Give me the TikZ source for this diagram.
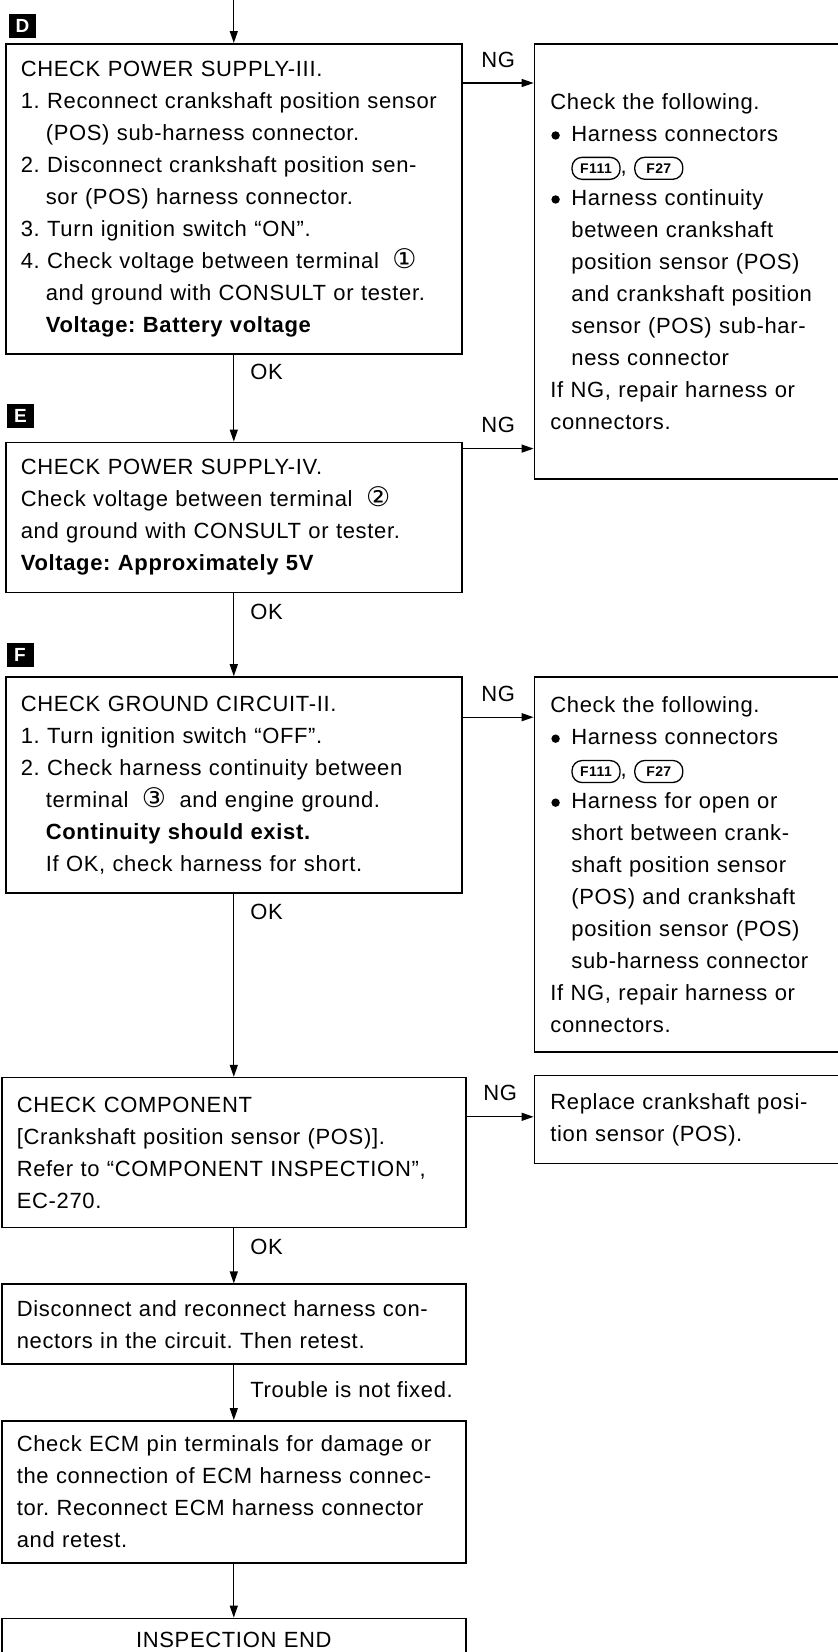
\documentclass[tikz,border=0pt]{standalone}
\usepackage{fontspec}
\setmainfont{Liberation Sans}[LetterSpace=3]
\newfontfamily\circfont{DejaVu Sans}
\usetikzlibrary{positioning, arrows.meta, calc}

\newcommand{\boxfont}{\frenchspacing\fontsize{22}{32}\selectfont}
\newcommand{\stepind}{\hspace*{25pt}}
\newcommand{\bulind}{\hspace*{21pt}}
\newcommand{\bul}{\makebox[21pt][l]{\hspace{1pt}\raisebox{1.5pt}{\tikz\fill (0,0) circle (4.2pt);}}}
\newcommand{\harn}[1]{\tikz[baseline=(p.base)]\node[pill] (p) {#1};}
\newcommand{\pinno}[1]{\hspace{6pt}{\circfont\fontsize{27}{27}\selectfont #1}}

\begin{document}
\begin{tikzpicture}[
  x=1pt, y=-1pt,
  stepbox/.style={
    rectangle,
    draw,
    line width=1.6pt,
    text width=426pt,
    inner xsep=15pt,
    inner ysep=0pt,
    align=left,
    font=\boxfont
  },
  notebox/.style={
    rectangle,
    draw,
    line width=1.6pt,
    text width=330pt,
    inner xsep=16pt,
    inner ysep=0pt,
    align=left,
    font=\boxfont
  },
  marker/.style={fill=black, text=white, minimum width=27pt, minimum height=24pt,
    inner sep=0pt, font=\bfseries\fontsize{19}{19}\selectfont},
  lbl/.style={inner sep=2pt, font=\boxfont},
  pill/.style={draw, line width=1.3pt, rounded corners=10pt, text width=40pt,
    align=center, inner xsep=4pt, inner ysep=3pt, minimum height=22pt,
    font=\bfseries\fontsize{14}{14}\selectfont},
  arrow/.style={-{Triangle[length=12pt, width=8pt]}, line width=1.3pt}
]
  \useasboundingbox (0,0) rectangle (838,1652);

  % Step markers
  \node (mD) [marker] at (22.5,26) {D};
  \node (mE) [marker] at (20.5,416) {E};
  \node (mF) [marker] at (20,655) {F};

  % Main column
  \node (D) [stepbox, minimum height=310pt, anchor=north west] at (5,43) {
    CHECK POWER SUPPLY-III.\\
    1. Reconnect crankshaft position sensor\\
    \stepind (POS) sub-harness connector.\\
    2. Disconnect crankshaft position sen-\\
    \stepind sor (POS) harness connector.\\
    3. Turn ignition switch ``ON''.\\
    4. Check voltage between terminal \pinno{①}\\
    \stepind and ground with CONSULT or tester.\\
    \stepind\textbf{Voltage: Battery voltage}};
  \node (E) [stepbox, minimum height=150pt, below=87pt of D] {
    CHECK POWER SUPPLY-IV.\\
    Check voltage between terminal \pinno{②}\\
    and ground with CONSULT or tester.\\
    \textbf{Voltage: Approximately 5V}};
  \node (F) [stepbox, minimum height=216pt, below=83pt of E] {
    CHECK GROUND CIRCUIT-II.\\
    1. Turn ignition switch ``OFF''.\\
    2. Check harness continuity between\\
    \stepind terminal \pinno{③}\hspace{6pt} and engine ground.\\
    \stepind\textbf{Continuity should exist.}\\
    \stepind If OK, check harness for short.};
  \node (comp) [stepbox, text width=434pt, minimum height=150pt, below=183pt of F] {
    CHECK COMPONENT\\
    {[}Crankshaft position sensor (POS)].\\
    Refer to ``COMPONENT INSPECTION'',\\
    EC-270.};
  \node (recon) [stepbox, text width=434pt, minimum height=80pt, below=55pt of comp] {
    Disconnect and reconnect harness con-\\
    nectors in the circuit. Then retest.};
  \node (ecm) [stepbox, text width=434pt, minimum height=142pt, below=55pt of recon] {
    Check ECM pin terminals for damage or\\
    the connection of ECM harness connec-\\
    tor. Reconnect ECM harness connector\\
    and retest.};
  \node (fin) [stepbox, text width=434pt, align=center, inner ysep=14pt, text depth=30pt,
    below=54pt of ecm] {INSPECTION END};

  % NG side boxes
  \node (fixD) [notebox, minimum height=435pt, right=71pt of D.north east,
    anchor=north west] {
    Check the following.\\
    \bul Harness connectors\\
    \bulind\harn{F111}, \harn{F27}\\
    \bul Harness continuity\\
    \bulind between crankshaft\\
    \bulind position sensor (POS)\\
    \bulind and crankshaft position\\
    \bulind sensor (POS) sub-har-\\
    \bulind ness connector\\
    If NG, repair harness or\\
    connectors.};
  \node (fixF) [notebox, minimum height=375pt, right=71pt of F.north east,
    anchor=north west] {
    Check the following.\\
    \bul Harness connectors\\
    \bulind\harn{F111}, \harn{F27}\\
    \bul Harness for open or\\
    \bulind short between crank-\\
    \bulind shaft position sensor\\
    \bulind (POS) and crankshaft\\
    \bulind position sensor (POS)\\
    \bulind sub-harness connector\\
    If NG, repair harness or\\
    connectors.};
  \node (repl) [notebox, minimum height=88pt, right=67pt of comp.north east,
    anchor=north west, yshift=2pt] {
    Replace crankshaft posi-\\
    tion sensor (POS).};

  % Arrows
  \coordinate (in) at (0,-10);
  \draw [arrow] (D.north |- in) -- (D);
  \draw [arrow] (D) -- node[lbl, pos=.2, right=14pt] {OK} (E);
  \draw [arrow] (E) -- node[lbl, pos=.22, right=14pt] {OK} (F);
  \draw [arrow] (F) -- node[lbl, pos=.1, right=14pt] {OK} (comp);
  \draw [arrow] (comp) -- node[lbl, pos=.33, right=14pt] {OK} (recon);
  \draw [arrow] (recon) -- node[lbl, pos=.45, right=14pt] {Trouble is not fixed.} (ecm);
  \draw [arrow] (ecm) -- (fin);

  \draw [arrow] ([yshift=-40pt]D.north east) -- ([yshift=-40pt]D.north east -| fixD.west)
    node[lbl, midway, above=13pt] {NG};
  \draw [arrow] ([yshift=-7pt]E.north east) -- ([yshift=-7pt]E.north east -| fixD.west)
    node[lbl, midway, above=13pt] {NG};
  \draw [arrow] ([yshift=-41pt]F.north east) -- ([yshift=-41pt]F.north east -| fixF.west)
    node[lbl, midway, above=13pt] {NG};
  \draw [arrow] ([yshift=-40pt]comp.north east) -- ([yshift=-40pt]comp.north east -| repl.west)
    node[lbl, midway, above=13pt] {NG};

\end{tikzpicture}
\end{document}
